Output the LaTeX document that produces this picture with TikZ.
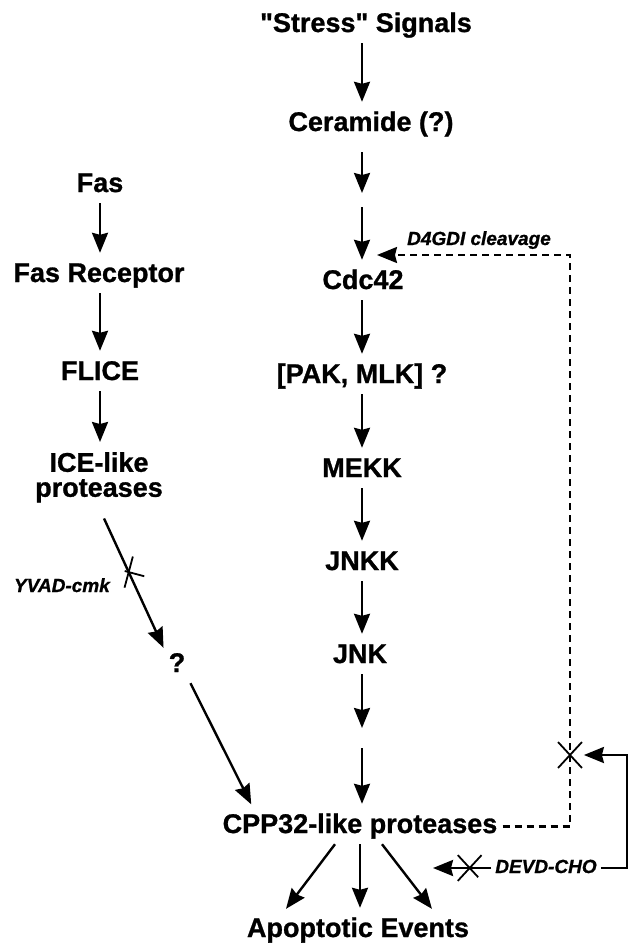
\documentclass[tikz,border=0pt]{standalone}
\usepackage{fontspec}
\setmainfont{Liberation Sans}[BoldFeatures={FakeBold=1}, BoldItalicFeatures={FakeBold=1}]
\usetikzlibrary{arrows.meta, positioning, calc, shapes.misc}
\tikzstyle{mol} = [font=\fontsize{27}{25}\selectfont\bfseries, inner sep=5pt, text height=19pt, text depth=6pt, anchor=base]
\tikzstyle{lbl} = [font=\fontsize{19}{20}\selectfont\bfseries\itshape, inner sep=4pt, text height=14pt, text depth=4pt, anchor=base]
\tikzstyle{arrow} = [-{Stealth[length=20pt, width=16pt, inset=2pt]}, line width=2.4pt, shorten >=5pt]
\tikzstyle{feedback} = [arrow, line width=2.2pt, dash pattern=on 7pt off 5pt]
\tikzstyle{xmark} = [draw, cross out, arrows=-, solid, line width=1.8pt, minimum width=22pt, minimum height=24pt, inner sep=0pt]

\begin{document}
\begin{tikzpicture}[x=1pt, y=-1pt]
    \useasboundingbox (0,0) rectangle (627,943);
    \coordinate (lcol) at (100,0);
    \coordinate (col) at (362,0);

    % Stress pathway
    \node[mol] (stress) at (366,32) {\textquotedbl Stress\textquotedbl{} Signals};
    \node[mol] (cer) at (371,131) {Ceramide (?)};
    \node[mol] (cdc) at (363,289) {Cdc42};
    \node[mol] (pak) at (362,383) {[PAK, MLK] ?};
    \node[mol] (mekk) at (362,477) {MEKK};
    \node[mol] (jnkk) at (362,570) {JNKK};
    \node[mol] (jnk) at (360,663) {JNK};
    \node[mol] (cpp) at (360,833) {CPP32-like proteases};
    \node[mol] (apo) at (358,937) {Apoptotic Events};

    % Fas pathway
    \node[mol] (fas) at (100,192) {Fas};
    \node[mol] (fasr) at (99,282) {Fas Receptor};
    \node[mol] (flice) at (100,380) {FLICE};
    \node[font=\fontsize{27}{25}\selectfont\bfseries, inner sep=5pt, align=center, anchor=north] (ice) at (99,447) {ICE-like\\proteases};
    \node[mol] (q) at (177,672) {?};

    % Inhibitors
    \node[lbl, anchor=base east] (yvad) at (114,592) {YVAD-cmk};
    \node[lbl, anchor=base west] (d4gdi) at (403,245) {D4GDI cleavage};
    \node[lbl] (devd) at (546,873) {DEVD-CHO};

    % Gaps in the arrows
    \coordinate (gapA) at (362,198);
    \coordinate (gapB) at (362,207);
    \coordinate (gapC) at (362,733);
    \coordinate (gapD) at (362,748);
    \coordinate (corner) at (570,255);
    \coordinate (devdtip) at (428,868);

    % Arrows
    \draw[arrow] (stress.south -| col) -- (cer.north -| col);
    \draw[arrow, shorten <=10pt] (cer.south -| col) -- (gapA);
    \draw[arrow] (gapB) -- (cdc.north -| col);
    \draw[arrow] (cdc.south -| col) -- (pak.north -| col);
    \draw[arrow] (pak.south -| col) -- (mekk.north -| col);
    \draw[arrow] (mekk.south -| col) -- (jnkk.north -| col);
    \draw[arrow] (jnkk.south -| col) -- (jnk.north -| col);
    \draw[arrow] (jnk.south -| col) -- (gapC);
    \draw[arrow] (gapD) -- (cpp.north -| col);
    \draw[arrow] ([xshift=-25pt]cpp.south) -- ([xshift=-75pt]apo.north);
    \draw[arrow] (cpp.south) -- (cpp.south |- apo.north);
    \draw[arrow] ([xshift=22pt]cpp.south) -- ([xshift=77pt]apo.north);

    \draw[arrow] (fas.south -| lcol) -- (fasr.north -| lcol);
    \draw[arrow] (fasr.south -| lcol) -- (flice.north -| lcol);
    \draw[arrow] (flice.south -| lcol) -- (ice.north -| lcol);
    \draw[arrow, shorten <=12pt, shorten >=0pt] (ice.south) -- node[xmark, minimum width=21pt, minimum height=21pt, rotate=30, pos=0.46] (yvadx) {} (q.north west);
    \draw[arrow] (q.south east) -- ([xshift=36pt]cpp.north west);

    % Feedback loop
    \draw[feedback, shorten >=15pt] (cpp.east) -| (corner) -- (corner -| col);
    \node[xmark] (blk) at (570,755) {};
    \draw[arrow, shorten >=2pt] (devd.east) -- ++(26,0) |- (blk);
    \draw[arrow] (devd.west) -- node[xmark, pos=0.34] (devdx) {} (devdtip);
\end{tikzpicture}
\end{document}
